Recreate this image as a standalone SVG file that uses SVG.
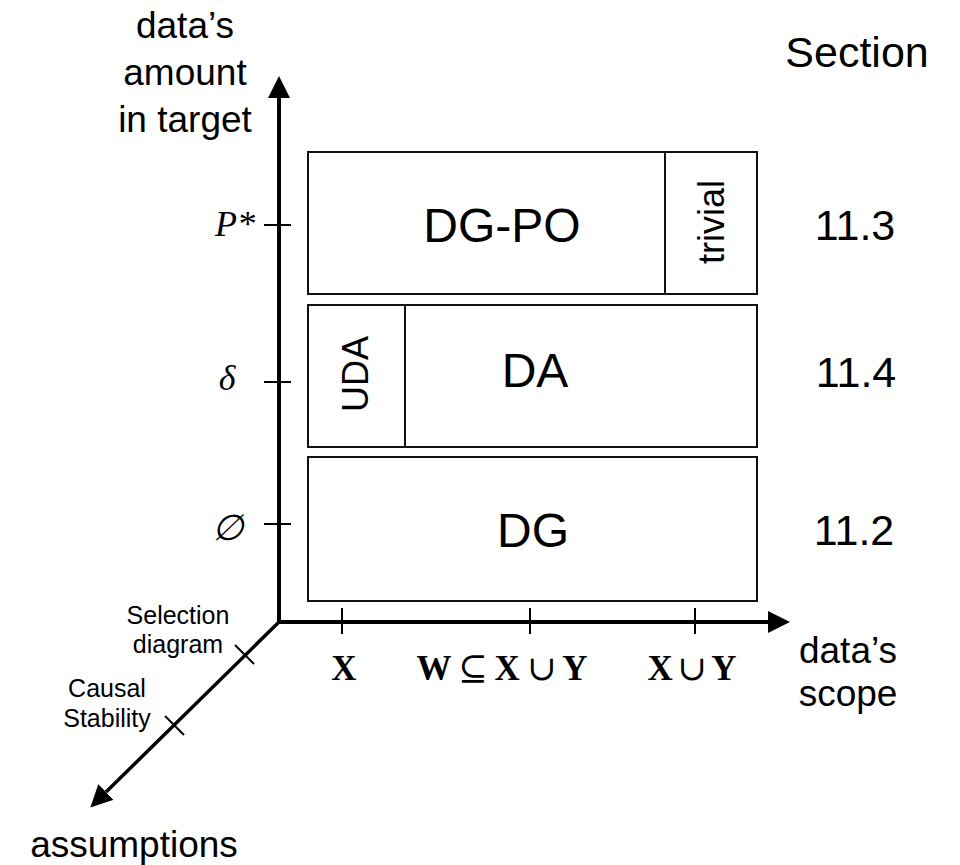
<svg xmlns="http://www.w3.org/2000/svg" width="960" height="865" viewBox="0 0 960 865">
  <style>
    .box { fill: none; stroke: #111; stroke-width: 2; }
    .axis { fill: none; stroke: #000; stroke-width: 4; }
    .tick { fill: none; stroke: #000; stroke-width: 2; }
    .sans { font-family: "Liberation Sans", Arial, Helvetica, sans-serif; fill: #000; }
    .math { font-family: "Liberation Serif", "DejaVu Serif", "Times New Roman", serif; fill: #000; }
    .big { font-size: 48px; text-anchor: middle; }
    .side { font-size: 36px; text-anchor: middle; }
    .sec { font-size: 43px; text-anchor: middle; }
    .lab { font-size: 37px; text-anchor: middle; }
    .small { font-size: 25px; text-anchor: middle; }
    .bold { font-weight: bold; font-size: 35px; text-anchor: middle; }
    .ital { font-style: italic; font-size: 36px; text-anchor: middle; }
  </style>
  <defs>
    <marker id="head" markerUnits="userSpaceOnUse" markerWidth="22" markerHeight="22" refX="0" refY="11" orient="auto">
      <path d="M0,0 L22,11 L0,22 z" fill="#000"/>
    </marker>
  </defs>

  <rect width="960" height="865" fill="#fff"/>

  <!-- axes -->
  <g id="connectors">
    <line class="axis" x1="279" y1="624" x2="279" y2="98" marker-end="url(#head)"/>
    <line class="axis" x1="277" y1="622" x2="768" y2="622" marker-end="url(#head)"/>
    <line class="axis" style="stroke-width:3.5" x1="280" y1="621" x2="106" y2="792" marker-end="url(#head)"/>
    <!-- ticks on the amount axis -->
    <line class="tick" x1="264" y1="225" x2="291" y2="225"/>
    <line class="tick" x1="264" y1="382" x2="291" y2="382"/>
    <line class="tick" x1="264" y1="524" x2="291" y2="524"/>
    <!-- ticks on the scope axis -->
    <line class="tick" x1="342" y1="608" x2="342" y2="634"/>
    <line class="tick" x1="530" y1="608" x2="530" y2="634"/>
    <line class="tick" x1="695" y1="608" x2="695" y2="634"/>
    <!-- ticks on the assumptions axis -->
    <line class="tick" x1="235" y1="645" x2="254" y2="664"/>
    <line class="tick" x1="165" y1="716" x2="184" y2="735"/>
  </g>

  <!-- axis labels -->
  <g id="axis-labels">
    <text class="sans lab" x="185" y="38">data’s</text>
    <text class="sans lab" x="185" y="85">amount</text>
    <text class="sans lab" x="185" y="132">in target</text>
    <text class="sans lab" x="848" y="663">data’s</text>
    <text class="sans lab" x="848" y="706">scope</text>
    <text class="sans lab" x="134" y="857">assumptions</text>
    <text class="sans small" x="178" y="624">Selection</text>
    <text class="sans small" x="178" y="653">diagram</text>
    <text class="sans small" x="107" y="697">Causal</text>
    <text class="sans small" x="107" y="727">Stability</text>
    <text class="math ital" x="235" y="236">P*</text>
    <text class="math ital" x="227" y="390">δ</text>
    <text class="math ital" x="227" y="540">∅</text>
    <text class="math bold" x="344" y="680">X</text>
    <text class="math bold" x="502" y="680" textLength="171" lengthAdjust="spacing">W <tspan font-weight="normal">⊆</tspan> X <tspan font-weight="normal">∪</tspan> Y</text>
    <text class="math bold" x="692" y="680" textLength="89" lengthAdjust="spacing">X<tspan font-weight="normal">∪</tspan>Y</text>
  </g>

  <!-- row 11.3 -->
  <g id="dg-po">
    <rect class="box" x="308" y="152" width="357" height="142"/>
    <text class="sans big" x="502" y="242">DG-PO</text>
  </g>
  <g id="trivial">
    <rect class="box" x="665" y="152" width="92" height="142"/>
    <text class="sans side" transform="translate(724 222) rotate(-90)">trivial</text>
  </g>

  <!-- row 11.4 -->
  <g id="uda">
    <rect class="box" x="308" y="305" width="97" height="142"/>
    <text class="sans side" transform="translate(368 374) rotate(-90)">UDA</text>
  </g>
  <g id="da">
    <rect class="box" x="405" y="305" width="352" height="142"/>
    <text class="sans big" x="535" y="387">DA</text>
  </g>

  <!-- row 11.2 -->
  <g id="dg">
    <rect class="box" x="308" y="457" width="449" height="144"/>
    <text class="sans big" x="533" y="547">DG</text>
  </g>

  <!-- section column -->
  <g id="sections">
    <text class="sans sec" x="857" y="67">Section</text>
    <text class="sans sec" x="855" y="240">11.3</text>
    <text class="sans sec" x="856" y="387">11.4</text>
    <text class="sans sec" x="854" y="545">11.2</text>
  </g>
</svg>
